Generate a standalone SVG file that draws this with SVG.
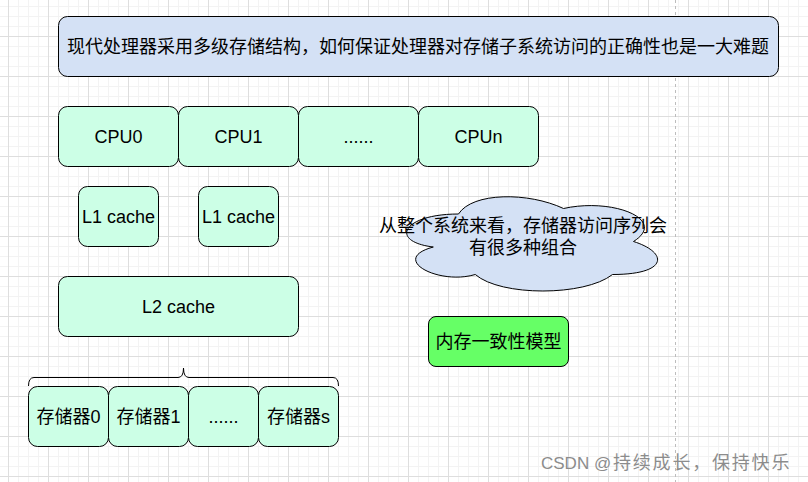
<svg xmlns="http://www.w3.org/2000/svg" width="808" height="482" viewBox="0 0 808 482">
<style>
.t{font-family:"Liberation Sans","Noto Sans CJK SC",sans-serif;font-size:18px;fill:#000;text-anchor:middle}
.g{fill:#CCFFE6;stroke:#000;stroke-width:1}
.b{fill:#D4E1F5;stroke:#000;stroke-width:1}
</style>
<defs>
<pattern id="minor" x="8" y="6" width="10" height="10" patternUnits="userSpaceOnUse">
<path d="M0.5,0V10M0,0.5H10" stroke="#f3f3f3" stroke-width="1" fill="none"/>
</pattern>
<pattern id="major" x="8" y="36" width="40" height="40" patternUnits="userSpaceOnUse">
<path d="M0.5,0V40M0,0.5H40" stroke="#dedede" stroke-width="1" fill="none"/>
</pattern>
</defs>
<rect width="808" height="482" fill="#fff"/>
<rect width="808" height="482" fill="url(#minor)"/>
<rect width="808" height="482" fill="url(#major)"/>
<line x1="675.5" y1="0" x2="675.5" y2="482" stroke="#bdbdbd" stroke-dasharray="3,3"/>

<g id="title">
<rect class="b" x="58.5" y="16.5" width="720" height="60" rx="9"/>
<text class="t" x="418" y="52.5">现代处理器采用多级存储结构，如何保证处理器对存储子系统访问的正确性也是一大难题</text>
</g>

<g id="cpu0"><rect class="g" x="58.5" y="106.5" width="120" height="60" rx="9"/><text class="t" x="118.5" y="142.5">CPU0</text></g>
<g id="cpu1"><rect class="g" x="178.5" y="106.5" width="120" height="60" rx="9"/><text class="t" x="238.5" y="142.5">CPU1</text></g>
<g id="cpudots"><rect class="g" x="298.5" y="106.5" width="120" height="60" rx="9"/><text class="t" x="358.5" y="142.5">......</text></g>
<g id="cpun"><rect class="g" x="418.5" y="106.5" width="120" height="60" rx="9"/><text class="t" x="478.5" y="142.5">CPUn</text></g>

<g id="l1a"><rect class="g" x="78.5" y="186.5" width="80" height="60" rx="9"/><text class="t" x="118.5" y="222.5">L1 cache</text></g>
<g id="l1b"><rect class="g" x="198.5" y="186.5" width="80" height="60" rx="9"/><text class="t" x="238.5" y="222.5">L1 cache</text></g>

<g id="l2"><rect class="g" x="58.5" y="276.5" width="240" height="60" rx="9"/><text class="t" x="178.5" y="312.5">L2 cache</text></g>

<g id="cloud">
<path class="b" transform="translate(388.5,186.5)" d="M70,27.5 C14,27.5 0,55 44.8,60.5 C0,72.6 50.4,99 86.8,88 C112,110 196,110 224,88 C280,88 280,66 245,55 C280,33 224,11 175,22 C140,5.5 84,5.5 70,27.5 Z"/>
<text class="t" x="523" y="232">从整个系统来看，存储器访问序列会</text>
<text class="t" x="523" y="254">有很多种组合</text>
</g>

<g id="model"><rect x="428.5" y="316.5" width="140" height="50" rx="7.5" fill="#66FF66" stroke="#000"/><text class="t" x="498.5" y="347.5">内存一致性模型</text></g>

<g id="brace"><path d="M28.5,386 Q28.5,377.5 34,377.5 L178,377.5 Q183.5,377.5 183.5,368 Q183.5,377.5 189,377.5 L333,377.5 Q338.5,377.5 338.5,386" fill="none" stroke="#000" stroke-width="1"/></g>

<g id="mem0"><rect class="g" x="28.5" y="386.5" width="80" height="60" rx="9"/><text class="t" x="68.5" y="422.5">存储器0</text></g>
<g id="mem1"><rect class="g" x="108.5" y="386.5" width="80" height="60" rx="9"/><text class="t" x="148.5" y="422.5">存储器1</text></g>
<g id="memdots"><rect class="g" x="188.5" y="386.5" width="70" height="60" rx="9"/><text class="t" x="223.5" y="422.5">......</text></g>
<g id="mems"><rect class="g" x="258.5" y="386.5" width="80" height="60" rx="9"/><text class="t" x="298.5" y="422.5">存储器s</text></g>

<g id="connectors"></g>

<text x="541" y="469" font-family="Liberation Sans,'Noto Sans CJK SC',sans-serif" font-size="17" fill="#8c8c8c">CSDN @<tspan x="613" font-size="18" letter-spacing="1.8">持续成长，保持快乐</tspan></text>
</svg>
